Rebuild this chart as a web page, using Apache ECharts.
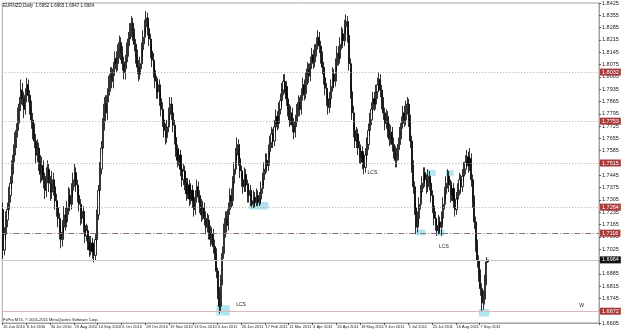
<!DOCTYPE html>
<html>
<head>
<meta charset="utf-8">
<script src="https://cdn.jsdelivr.net/npm/echarts@6/dist/echarts.min.js"></script>
<style>
  html, body { margin: 0; padding: 0; background: #fff; }
  #chart { width: 625px; height: 331px; }
</style>
</head>
<body>
<div id="chart"></div>
<script>
// EURNZD daily bars, 16 Jun 2010 .. mid Sep 2011 (weekdays only)
const symbolName = 'EURNZD,Daily'
const firstOpen = 1.7250

const closes = [
  1.7020,1.7110,1.7190,1.7250,1.7330,1.7400,1.7480,1.7560,1.7640,1.7700,
  1.7780,1.7850,1.7930,1.7880,1.7820,1.7900,1.7960,1.7900,1.7830,1.7760,
  1.7700,1.7640,1.7560,1.7600,1.7520,1.7450,1.7500,1.7420,1.7360,1.7440,
  1.7480,1.7400,1.7350,1.7420,1.7380,1.7300,1.7260,1.7200,1.7120,1.7080,
  1.7150,1.7220,1.7180,1.7260,1.7330,1.7280,1.7360,1.7420,1.7460,1.7390,
  1.7330,1.7280,1.7200,1.7240,1.7160,1.7100,1.7130,1.7060,1.7020,1.7060,
  1.7010,1.6990,1.7080,1.7220,1.7360,1.7480,1.7600,1.7730,1.7850,1.7800,
  1.7900,1.7960,1.8020,1.7980,1.8050,1.8110,1.8080,1.8150,1.8200,1.8140,
  1.8080,1.8030,1.8090,1.8160,1.8220,1.8270,1.8310,1.8250,1.8190,1.8120,
  1.8060,1.8020,1.8080,1.8160,1.8230,1.8290,1.8340,1.8280,1.8220,1.8150,
  1.8100,1.8040,1.7980,1.7920,1.7960,1.7880,1.7820,1.7760,1.7700,1.7660,
  1.7720,1.7790,1.7850,1.7800,1.7730,1.7660,1.7590,1.7530,1.7560,1.7480,
  1.7420,1.7470,1.7400,1.7340,1.7390,1.7310,1.7360,1.7300,1.7250,1.7320,
  1.7380,1.7330,1.7270,1.7220,1.7260,1.7200,1.7150,1.7190,1.7120,1.7080,
  1.7110,1.7040,1.7000,1.6900,1.6780,1.6700,1.6850,1.7000,1.7130,1.7200,
  1.7160,1.7250,1.7330,1.7300,1.7400,1.7480,1.7560,1.7620,1.7540,1.7470,
  1.7420,1.7380,1.7450,1.7390,1.7330,1.7360,1.7300,1.7280,1.7320,1.7290,
  1.7330,1.7290,1.7310,1.7370,1.7420,1.7480,1.7530,1.7500,1.7580,1.7630,
  1.7680,1.7640,1.7720,1.7780,1.7740,1.7820,1.7870,1.7930,1.7980,1.7950,
  1.7880,1.7820,1.7760,1.7800,1.7730,1.7690,1.7750,1.7810,1.7860,1.7820,
  1.7900,1.7960,1.7910,1.7990,1.8050,1.8010,1.8080,1.8130,1.8090,1.8150,
  1.8190,1.8230,1.8180,1.8120,1.8060,1.8000,1.7940,1.7880,1.7830,1.7880,
  1.7950,1.8020,1.7980,1.8070,1.8140,1.8110,1.8190,1.8250,1.8210,1.8290,
  1.8320,1.8240,1.8080,1.7920,1.7800,1.7700,1.7640,1.7680,1.7600,1.7550,
  1.7580,1.7520,1.7490,1.7560,1.7620,1.7700,1.7760,1.7820,1.7880,1.7850,
  1.7920,1.7960,1.7990,1.7930,1.7860,1.7800,1.7740,1.7780,1.7700,1.7650,
  1.7690,1.7620,1.7580,1.7530,1.7560,1.7620,1.7680,1.7740,1.7800,1.7760,
  1.7830,1.7850,1.7760,1.7640,1.7500,1.7380,1.7260,1.7150,1.7200,1.7280,
  1.7350,1.7400,1.7460,1.7420,1.7380,1.7440,1.7400,1.7330,1.7270,1.7200,
  1.7160,1.7130,1.7180,1.7150,1.7200,1.7280,1.7340,1.7400,1.7440,1.7390,
  1.7330,1.7370,1.7300,1.7250,1.7310,1.7360,1.7420,1.7380,1.7440,1.7480,
  1.7520,1.7550,1.7500,1.7540,1.7420,1.7300,1.7180,1.7050,1.6960,1.6880,
  1.6800,1.6720,1.6740,1.6850,1.6952,1.6964
]

const highs = [
  1.7290,1.7150,1.7240,1.7290,1.7380,1.7440,1.7530,1.7620,1.7690,1.7740,
  1.7830,1.7890,1.7990,1.7970,1.7920,1.7940,1.8000,1.7990,1.7930,1.7870,
  1.7800,1.7740,1.7680,1.7650,1.7630,1.7560,1.7550,1.7530,1.7460,1.7490,
  1.7530,1.7510,1.7440,1.7470,1.7460,1.7410,1.7340,1.7300,1.7230,1.7160,
  1.7190,1.7270,1.7260,1.7300,1.7380,1.7370,1.7400,1.7460,1.7510,1.7490,
  1.7420,1.7370,1.7310,1.7280,1.7270,1.7200,1.7170,1.7160,1.7100,1.7100,
  1.7090,1.7050,1.7110,1.7250,1.7390,1.7520,1.7640,1.7770,1.7890,1.7900,
  1.7940,1.8010,1.8060,1.8060,1.8090,1.8150,1.8150,1.8190,1.8240,1.8230,
  1.8180,1.8120,1.8130,1.8200,1.8260,1.8310,1.8350,1.8340,1.8280,1.8220,
  1.8160,1.8100,1.8120,1.8200,1.8270,1.8330,1.8380,1.8370,1.8310,1.8250,
  1.8190,1.8140,1.8080,1.8010,1.8000,1.7990,1.7920,1.7860,1.7800,1.7740,
  1.7760,1.7830,1.7890,1.7890,1.7830,1.7760,1.7690,1.7620,1.7600,1.7590,
  1.7510,1.7510,1.7500,1.7430,1.7430,1.7420,1.7400,1.7390,1.7340,1.7360,
  1.7420,1.7410,1.7360,1.7310,1.7300,1.7290,1.7240,1.7230,1.7220,1.7160,
  1.7150,1.7140,1.7080,1.7030,1.6920,1.6810,1.6880,1.7040,1.7170,1.7240,
  1.7240,1.7290,1.7370,1.7370,1.7440,1.7520,1.7600,1.7660,1.7650,1.7570,
  1.7500,1.7460,1.7490,1.7480,1.7420,1.7400,1.7390,1.7340,1.7360,1.7350,
  1.7370,1.7360,1.7350,1.7410,1.7460,1.7520,1.7570,1.7570,1.7620,1.7670,
  1.7720,1.7710,1.7760,1.7820,1.7810,1.7860,1.7910,1.7970,1.8020,1.8020,
  1.7980,1.7910,1.7850,1.7840,1.7830,1.7770,1.7790,1.7850,1.7900,1.7890,
  1.7940,1.8000,1.7990,1.8030,1.8090,1.8080,1.8120,1.8170,1.8160,1.8190,
  1.8230,1.8270,1.8260,1.8210,1.8150,1.8090,1.8030,1.7970,1.7910,1.7920,
  1.7990,1.8060,1.8050,1.8110,1.8180,1.8180,1.8230,1.8290,1.8280,1.8330,
  1.8360,1.8350,1.8270,1.8110,1.7950,1.7840,1.7740,1.7720,1.7710,1.7640,
  1.7620,1.7610,1.7560,1.7600,1.7660,1.7740,1.7800,1.7860,1.7920,1.7920,
  1.7960,1.8000,1.8030,1.8020,1.7960,1.7890,1.7830,1.7820,1.7810,1.7740,
  1.7730,1.7720,1.7660,1.7610,1.7600,1.7660,1.7720,1.7780,1.7840,1.7840,
  1.7870,1.7890,1.7880,1.7790,1.7670,1.7530,1.7410,1.7290,1.7240,1.7320,
  1.7390,1.7440,1.7490,1.7490,1.7450,1.7480,1.7470,1.7430,1.7360,1.7300,
  1.7240,1.7200,1.7220,1.7210,1.7240,1.7320,1.7380,1.7440,1.7480,1.7470,
  1.7420,1.7410,1.7400,1.7330,1.7350,1.7400,1.7460,1.7450,1.7480,1.7520,
  1.7560,1.7590,1.7580,1.7600,1.7570,1.7450,1.7330,1.7210,1.7080,1.6990,
  1.6910,1.6830,1.6790,1.6880,1.6980,1.6965
]

const lows = [
  1.6970,1.6990,1.7080,1.7150,1.7220,1.7290,1.7370,1.7450,1.7520,1.7600,
  1.7660,1.7740,1.7810,1.7840,1.7770,1.7790,1.7860,1.7860,1.7790,1.7710,
  1.7650,1.7600,1.7510,1.7520,1.7470,1.7400,1.7410,1.7370,1.7310,1.7320,
  1.7400,1.7350,1.7300,1.7310,1.7330,1.7250,1.7210,1.7150,1.7080,1.7030,
  1.7040,1.7110,1.7130,1.7150,1.7220,1.7240,1.7250,1.7320,1.7380,1.7350,
  1.7290,1.7240,1.7160,1.7170,1.7120,1.7060,1.7070,1.7020,1.6980,1.6990,
  1.6970,1.6950,1.6960,1.7050,1.7190,1.7330,1.7450,1.7570,1.7700,1.7750,
  1.7760,1.7860,1.7920,1.7940,1.7940,1.8010,1.8030,1.8040,1.8110,1.8100,
  1.8040,1.7990,1.7990,1.8050,1.8120,1.8180,1.8230,1.8210,1.8150,1.8080,
  1.8020,1.7980,1.7990,1.8050,1.8120,1.8190,1.8250,1.8240,1.8180,1.8110,
  1.8060,1.8000,1.7940,1.7880,1.7880,1.7840,1.7780,1.7720,1.7660,1.7620,
  1.7630,1.7690,1.7760,1.7760,1.7690,1.7620,1.7550,1.7490,1.7500,1.7440,
  1.7380,1.7390,1.7360,1.7300,1.7310,1.7270,1.7280,1.7260,1.7210,1.7220,
  1.7290,1.7290,1.7230,1.7180,1.7190,1.7160,1.7110,1.7120,1.7080,1.7040,
  1.7050,1.7000,1.6960,1.6860,1.6740,1.6660,1.6670,1.6820,1.6970,1.7090,
  1.7120,1.7130,1.7220,1.7260,1.7270,1.7370,1.7450,1.7530,1.7500,1.7430,
  1.7380,1.7340,1.7350,1.7350,1.7290,1.7290,1.7270,1.7260,1.7260,1.7260,
  1.7270,1.7270,1.7270,1.7280,1.7340,1.7390,1.7450,1.7460,1.7470,1.7550,
  1.7600,1.7600,1.7610,1.7690,1.7700,1.7710,1.7790,1.7840,1.7900,1.7910,
  1.7840,1.7780,1.7720,1.7730,1.7690,1.7650,1.7660,1.7720,1.7780,1.7780,
  1.7790,1.7870,1.7870,1.7880,1.7960,1.7970,1.7980,1.8050,1.8050,1.8060,
  1.8120,1.8160,1.8140,1.8080,1.8020,1.7960,1.7900,1.7840,1.7790,1.7800,
  1.7850,1.7920,1.7940,1.7950,1.8040,1.8070,1.8080,1.8160,1.8170,1.8180,
  1.8250,1.8200,1.8040,1.7880,1.7760,1.7660,1.7600,1.7600,1.7560,1.7510,
  1.7510,1.7480,1.7450,1.7460,1.7530,1.7590,1.7670,1.7730,1.7790,1.7810,
  1.7820,1.7880,1.7920,1.7890,1.7820,1.7760,1.7700,1.7710,1.7660,1.7610,
  1.7620,1.7580,1.7540,1.7490,1.7490,1.7530,1.7590,1.7650,1.7710,1.7720,
  1.7730,1.7790,1.7720,1.7600,1.7460,1.7340,1.7220,1.7110,1.7120,1.7170,
  1.7250,1.7320,1.7370,1.7380,1.7340,1.7350,1.7360,1.7290,1.7230,1.7160,
  1.7130,1.7100,1.7110,1.7110,1.7100,1.7170,1.7250,1.7310,1.7370,1.7350,
  1.7290,1.7300,1.7260,1.7210,1.7220,1.7280,1.7330,1.7340,1.7350,1.7410,
  1.7450,1.7490,1.7460,1.7470,1.7380,1.7260,1.7140,1.7010,1.6920,1.6840,
  1.6760,1.6670,1.6680,1.6710,1.6820,1.6947
]

// date labels shown every 16 bars
const tickLabels = [
  '16 Jun 2010', '8 Jul 2010', '30 Jul 2010', '23 Aug 2010', '14 Sep 2010',
  '6 Oct 2010', '28 Oct 2010', '19 Nov 2010', '13 Dec 2010', '4 Jan 2011',
  '26 Jan 2011', '17 Feb 2011', '11 Mar 2011', '4 Apr 2011', '26 Apr 2011',
  '18 May 2011', '9 Jun 2011', '1 Jul 2011', '25 Jul 2011', '16 Aug 2011',
  '7 Sep 2011'
]
const labelStep = 16
const totalSlots = 400 // bars + empty chart shift on the right

// price axis
const priceMin = 1.6605
const priceMax = 1.8425
const priceStep = 0.0070

// horizontal levels
const dottedLevels = [1.8032, 1.7753, 1.7515, 1.7264]
const orderLevel = 1.7116
const bidLevel = 1.6964
const supportLevel = 1.6672

// highlighted boxes [fromBar, toBar, low, high]
const boxes = [
  [143, 152, 1.6648, 1.6706],
  [165, 178, 1.7250, 1.7293],
  [277, 283, 1.7103, 1.7136],
  [284, 290, 1.7441, 1.7475],
  [291, 296, 1.7103, 1.7136],
  [297, 302, 1.7441, 1.7475],
  [319, 326, 1.6642, 1.6684]
]

// text notes [bar, price, text]
const notes = [
  [156, 1.6707, 'LCS'],
  [244, 1.7463, 'LCS'],
  [292, 1.7037, 'LCS'],
  [386, 1.6701, 'W']
]

const FONT = 'Liberation Sans'

const categories = Array.from({ length: totalSlots }, (_, i) => String(i))
const candles = closes.map((c, i) => {
  const o = i === 0 ? firstOpen : closes[i - 1]
  return [o, c, lows[i], highs[i]]
})

const showLabel = (idx) => idx % labelStep === 0 && idx / labelStep < tickLabels.length

const redTag = {
  show: true,
  position: 'end',
  distance: 1,
  formatter: (p) => Number(p.value).toFixed(4),
  backgroundColor: '#a83a3a',
  color: '#fff',
  fontFamily: FONT,
  fontSize: 5.5,
  padding: [1, 2, 0, 2]
}

const last = candles[candles.length - 1]

const chart = echarts.init(document.getElementById('chart'), null, { renderer: 'canvas' })

chart.setOption({
  animation: false,
  backgroundColor: '#fff',
  grid: {
    left: 0,
    right: 26,
    top: 3,
    bottom: 8,
    show: true,
    borderColor: '#a0a0a0',
    borderWidth: 1
  },
  xAxis: {
    type: 'category',
    data: categories,
    boundaryGap: true,
    axisLine: { show: true, lineStyle: { color: '#a0a0a0' } },
    axisTick: {
      show: true,
      interval: showLabel,
      length: 2,
      lineStyle: { color: '#555' }
    },
    axisLabel: {
      interval: showLabel,
      showMinLabel: true,
      hideOverlap: false,
      formatter: (v, idx) => tickLabels[idx / labelStep] || '',
      align: 'left',
      margin: 2,
      fontFamily: FONT,
      fontSize: 4,
      color: '#222'
    },
    splitLine: { show: false }
  },
  yAxis: {
    type: 'value',
    position: 'right',
    min: priceMin,
    max: priceMax,
    interval: priceStep,
    axisLine: { show: true, lineStyle: { color: '#a0a0a0' } },
    axisTick: { show: true, length: 2, lineStyle: { color: '#555' } },
    axisLabel: {
      formatter: (v) => v.toFixed(4),
      margin: 3,
      fontFamily: FONT,
      fontSize: 5.5,
      color: '#222'
    },
    splitLine: { show: false }
  },
  graphic: [
    {
      type: 'text',
      left: 3,
      top: 3,
      style: {
        text: symbolName + '  ' + [last[0], last[3], last[2], last[1]].map(v => v.toFixed(4)).join(' '),
        fontFamily: FONT,
        fontSize: 4.5,
        fill: '#111'
      }
    },
    {
      type: 'text',
      left: 3,
      top: 318,
      style: {
        text: 'FxPro MT4, © 2001-2011 MetaQuotes Software Corp.',
        fontFamily: FONT,
        fontSize: 4,
        fill: '#111'
      }
    }
  ],
  series: [
    {
      type: 'candlestick',
      data: candles,
      barWidth: 1.6,
      itemStyle: {
        color: '#ffffff',
        color0: '#000000',
        borderColor: '#000000',
        borderColor0: '#000000',
        borderWidth: 0.8
      },
      markArea: {
        silent: true,
        itemStyle: { color: 'rgba(150, 220, 235, 0.75)' },
        data: boxes.map(b => [
          { xAxis: String(b[0]), yAxis: b[2] },
          { xAxis: String(b[1]), yAxis: b[3] }
        ])
      },
      markLine: {
        silent: true,
        symbol: 'none',
        precision: 4,
        data: [
          ...dottedLevels.map(v => ({
            yAxis: v,
            lineStyle: { color: '#c4a0a0', type: [1, 2], width: 1 },
            label: redTag
          })),
          {
            yAxis: orderLevel,
            lineStyle: { color: '#8a7070', type: [6, 2, 1, 2], width: 1 },
            label: redTag
          },
          {
            yAxis: orderLevel,
            lineStyle: { opacity: 0 },
            label: {
              show: true,
              position: 'insideStartTop',
              distance: [2, 1],
              formatter: 'sell limit',
              fontFamily: FONT,
              fontSize: 4,
              color: '#555'
            }
          },
          {
            yAxis: bidLevel,
            lineStyle: { color: '#c8c8c8', type: 'solid', width: 1 },
            label: { ...redTag, backgroundColor: '#111' }
          },
          {
            yAxis: supportLevel,
            lineStyle: { color: '#dcb8b8', type: 'solid', width: 1.2 },
            label: redTag
          }
        ]
      },
      markPoint: {
        silent: true,
        symbol: 'rect',
        symbolSize: 1,
        itemStyle: { color: 'rgba(0,0,0,0)' },
        label: {
          show: true,
          position: 'right',
          distance: 0,
          formatter: '{b}',
          fontFamily: FONT,
          fontSize: 5,
          color: '#222'
        },
        data: notes.map(n => ({ name: n[2], coord: [String(n[0]), n[1]] }))
      }
    }
  ]
})
</script>
</body>
</html>
